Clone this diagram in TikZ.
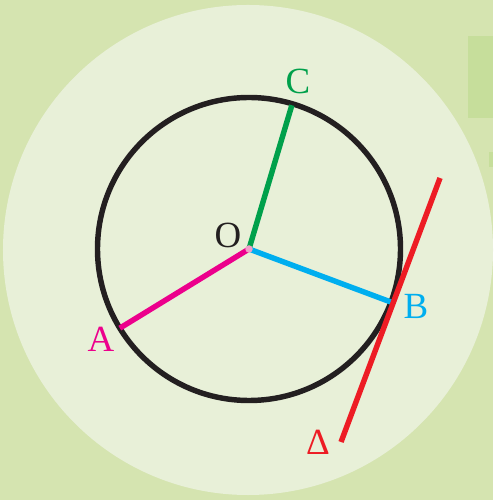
\documentclass[tikz,border=0pt]{standalone}
\usepackage{fontspec}
\setmainfont{Liberation Serif}
\definecolor{bggreen}{RGB}{213,228,176}
\definecolor{diskgreen}{RGB}{232,240,216}
\definecolor{boxgreen}{RGB}{198,222,155}
\definecolor{circblack}{RGB}{35,31,32}
\definecolor{segC}{RGB}{0,160,75}
\definecolor{segA}{RGB}{236,0,140}
\definecolor{segB}{RGB}{0,174,239}
\definecolor{lineD}{RGB}{237,28,36}
\definecolor{dotpink}{RGB}{240,160,200}
\tikzset{
  seg/.style={line width=3.1pt},
  lbl/.style={font=\fontsize{21}{25}\selectfont, inner sep=0pt}
}
\begin{document}
\begin{tikzpicture}
        % background
        \fill[bggreen] (-4.98,-5.02) rectangle (4.88,4.98);
        \useasboundingbox (-4.98,-5.02) rectangle (4.88,4.98);
        \fill[boxgreen] (4.38,2.62) rectangle (4.88,4.26);
        \fill[boxgreen] (4.80,1.64) rectangle (4.88,1.94);
        \fill[diskgreen] (-0.02,-0.02) circle (4.9);

        % circle and radii
        \coordinate (O) at (0,0);
        \coordinate (A) at (211.5:3.03);
        \coordinate (B) at (-20.5:3.03);
        \coordinate (C) at (73.4:3.0);
        \coordinate (D1) at (3.82,1.42);
        \coordinate (D2) at (1.84,-3.86);

        \draw[circblack, seg] (O) circle (3.03);
        \draw[segC, seg] (O) -- (C);
        \draw[segA, seg] (O) -- (A);
        \draw[segB, seg] (O) -- (B);
        \draw[lineD, seg] (D1) -- (D2);
        \fill[dotpink] (O) circle (0.075);

        \node[lbl, circblack] (lblO) at (-0.42,0.28) {O};
        \node[lbl, segC] (lblC) at (0.98,3.36) {C};
        \node[lbl, segB] (lblB) at (3.34,-1.14) {B};
        \node[lbl, segA] (lblA) at (-2.96,-1.8) {A};
        \node[lbl, lineD] (lblD) at (1.38,-3.86) {Δ};
\end{tikzpicture}
\end{document}
